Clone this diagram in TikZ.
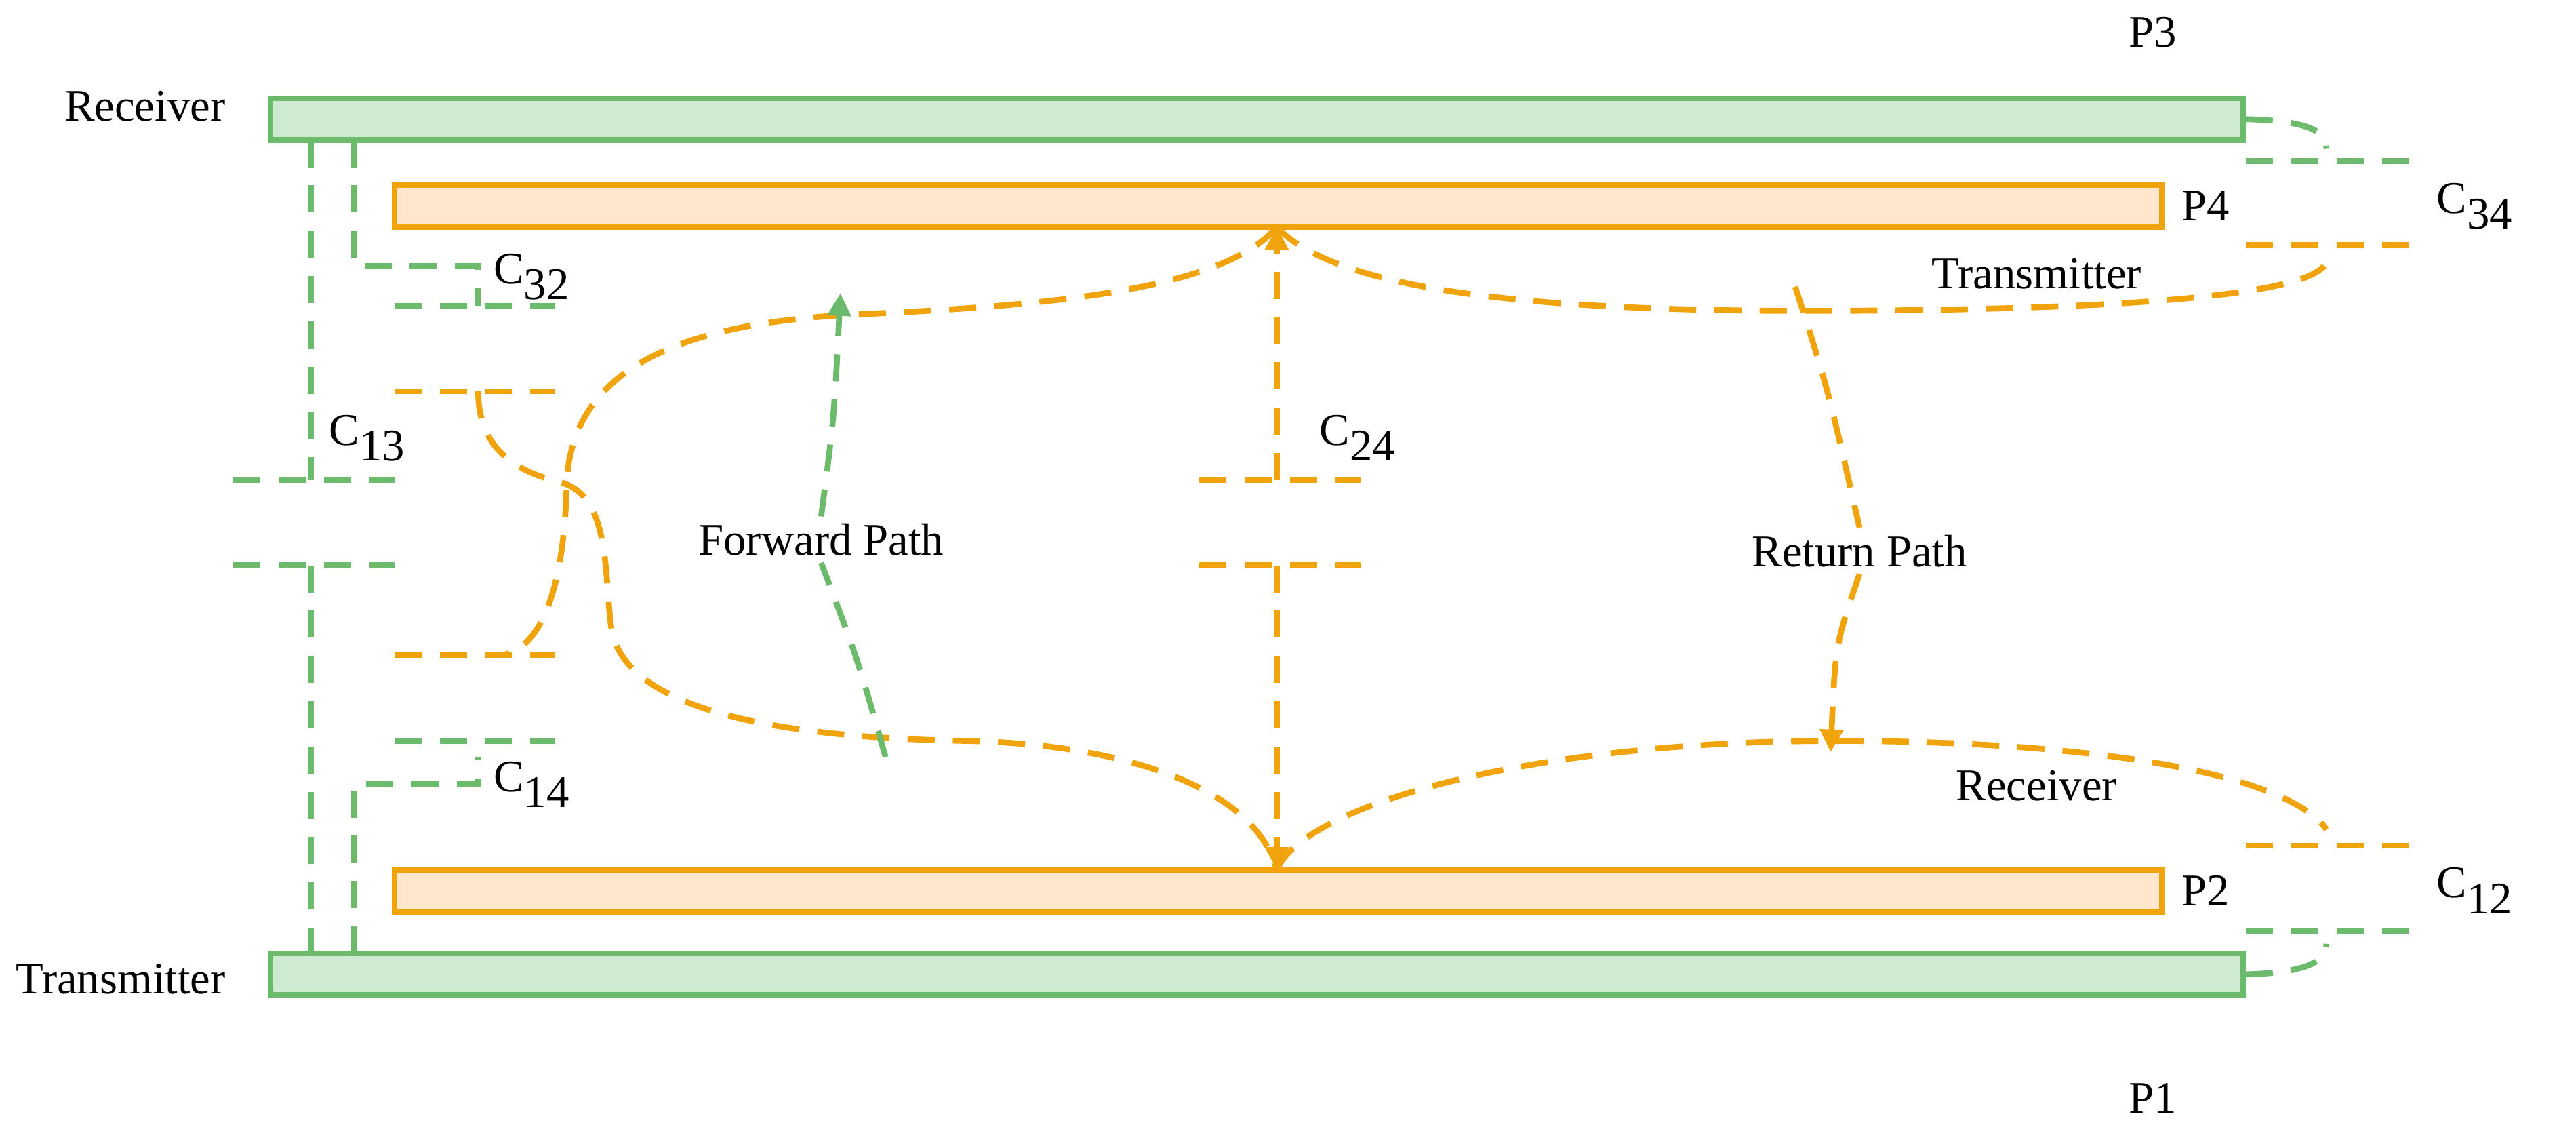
\documentclass[tikz,border=0pt]{standalone}
\usepackage{fontspec}
\setmainfont{Liberation Serif}
\usetikzlibrary{arrows.meta}
\definecolor{gS}{HTML}{6CBB6C}
\definecolor{gF}{HTML}{D0EAD2}
\definecolor{oS}{HTML}{F0A30A}
\definecolor{oF}{HTML}{FFE6CC}
\newcommand{\Cap}[1]{C\raisebox{-0.35em}{#1}}
\begin{document}
\begin{tikzpicture}[x=0.25mm,y=-0.25mm,
  gbar/.style={draw=gS,fill=gF,line width=2.6pt,minimum height=26*0.25mm,inner sep=0},
  obar/.style={draw=oS,fill=oF,line width=2.6pt,minimum height=26*0.25mm,inner sep=0},
  gd/.style={draw=gS,line width=2.6pt,dash pattern=on 12pt off 8pt},
  od/.style={draw=oS,line width=2.6pt,dash pattern=on 12pt off 8pt},
  lab/.style={font=\fontsize{20}{23}\selectfont,inner sep=1pt},
  tip/.style={-{Triangle[length=10pt,width=10pt]}}]
\useasboundingbox (0,0) rectangle (1600,697);
% bars
\node[gbar,minimum width=1225*0.25mm] (P3) at (780.5,74) {};
\node[obar,minimum width=1098*0.25mm] (P4) at (794,128) {};
\node[obar,minimum width=1098*0.25mm] (P2) at (794,553) {};
\node[gbar,minimum width=1225*0.25mm] (P1) at (780.5,605) {};
% labels
\node[lab] (lrx) at (90,66) {Receiver};
\node[lab] (ltx) at (75,608) {Transmitter};
\node[lab] (lp3) at (1337,20) {P3};
\node[lab] (lp4) at (1370,128) {P4};
\node[lab] (lp2) at (1370,553) {P2};
\node[lab] (lp1) at (1337,682) {P1};
\node[lab] (l32) at (330,172) {\Cap{32}};
\node[lab] (l13) at (228,272) {\Cap{13}};
\node[lab] (l14) at (330,487) {\Cap{14}};
\node[lab] (l24) at (843,272) {\Cap{24}};
\node[lab] (l34) at (1537,128) {\Cap{34}};
\node[lab] (l12) at (1537,553) {\Cap{12}};
\node[lab] (ltx2) at (1265,170) {Transmitter};
\node[lab] (lrx2) at (1265,488) {Receiver};
% coordinates
\coordinate (t1) at (193,87);
\coordinate (t2) at (220,87);
\coordinate (b1) at (193,592);
\coordinate (b2) at (220,592);
\coordinate (p4c) at (793,141);
\coordinate (p2c) at (793,540);
% green capacitors left
\draw[gd] (t1) -- (193,298);
\draw[gd] (145,298) -- (245,298);
\draw[gd] (145,351) -- (245,351);
\draw[gd] (193,351) -- (b1);
\draw[gd] (t2) -- (220,165) -- (297,165) -- (297,190);
\draw[gd] (245,190) -- (345,190);
\draw[gd] (245,460) -- (345,460);
\draw[gd] (b2) -- (220,487) -- (297,487) -- (297,470);
% orange plates left
\draw[od] (245,243) -- (345,243);
\draw[od] (245,407) -- (345,407);
% C24
\draw[od] (745,298) -- (845,298);
\draw[od] (745,351) -- (845,351);
\draw[od,tip] (793,298) -- (p4c);
\draw[od,tip] (793,351) -- (p2c);
% right capacitors
\draw[gd] (1395,100) -- (1497,100);
\draw[od] (1395,152) -- (1497,152);
\draw[od] (1395,525) -- (1497,525);
\draw[gd] (1395,578) -- (1497,578);
\draw[gd] (P3.east) .. controls (1430,75) and (1445,80) .. (1445,92);
\draw[gd] (P1.east) .. controls (1430,604) and (1445,598) .. (1445,586);
% orange curves
\draw[od] (p4c) .. controls (760,180) and (650,190) .. (536,195)
  .. controls (420,200) and (355,230) .. (352,300)
  .. controls (350,380) and (330,405) .. (310,407);
\draw[od] (297,243) .. controls (297,285) and (330,295) .. (350,300)
  .. controls (380,310) and (375,360) .. (380,392)
  .. controls (390,440) and (480,458) .. (600,460)
  .. controls (700,462) and (780,490) .. (p2c);
\draw[od] (p2c) .. controls (810,500) and (950,460) .. (1140,460)
  .. controls (1300,460) and (1420,480) .. (1445,515);
\draw[od] (p4c) .. controls (830,180) and (950,193) .. (1120,193)
  .. controls (1300,193) and (1440,185) .. (1445,162);
% paths
\node[lab,fill=white,inner sep=3pt] (fwd) at (510,335) {Forward Path};
\node[lab,fill=white,inner sep=3pt] (ret) at (1155,342) {Return Path};
\coordinate (fs) at (550,470);
\coordinate (fe) at (522,182);
\coordinate (rs) at (1115,178);
\coordinate (re) at (1137,467);
\draw[gd] (fs) .. controls (533,410) .. (fwd.south);
\draw[gd,tip] (fwd.north) .. controls (518,260) .. (fe);
\draw[od] (rs) .. controls (1135,240) .. (ret.north);
\draw[od,tip] (ret.south) .. controls (1140,400) .. (re);
\end{tikzpicture}
\end{document}
